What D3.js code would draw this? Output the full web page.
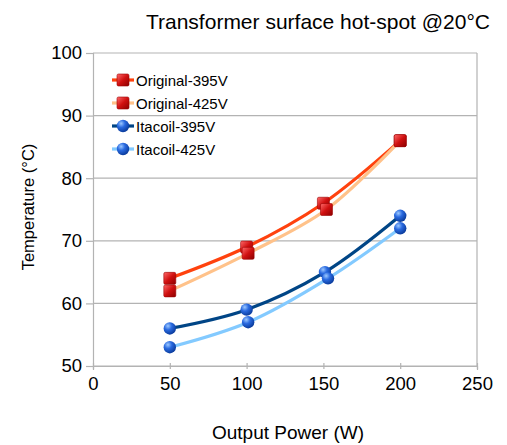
<!DOCTYPE html>
<html>
<head>
<meta charset="utf-8">
<script src="https://cdn.jsdelivr.net/npm/d3@7"></script>
<style>
  body { margin: 0; background: #fff; }
  text { font-family: "Liberation Sans", Arial, sans-serif; fill: #000; }
</style>
</head>
<body>
<svg id="chart" width="507" height="445"></svg>
<script>
const seriesNames = ["Original-395V", "Original-425V", "Itacoil-395V", "Itacoil-425V"];
const powerOrig395 = [50, 100, 150, 200];
const tempOrig395 = [64, 69, 76, 86];
const powerOrig425 = [50, 101, 152, 200];
const tempOrig425 = [62, 68, 75, 86];
const powerIta395 = [50, 100, 151, 200];
const tempIta395 = [56, 59, 65, 74];
const powerIta425 = [50, 101, 153, 200];
const tempIta425 = [53, 57, 64, 72];
const xTicks = [0, 50, 100, 150, 200, 250];
const yTicks = [50, 60, 70, 80, 90, 100];

const lineColors = ["#ff420e", "#ffc28a", "#004586", "#83caff"];
const markerType = ["square", "square", "ball", "ball"];

const series = [
  {name: seriesNames[0], xs: powerOrig395, ys: tempOrig395},
  {name: seriesNames[1], xs: powerOrig425, ys: tempOrig425},
  {name: seriesNames[2], xs: powerIta395, ys: tempIta395},
  {name: seriesNames[3], xs: powerIta425, ys: tempIta425}
].map((s, i) => ({...s, color: lineColors[i], marker: markerType[i],
  points: s.xs.map((x, j) => ({x: x, y: s.ys[j]}))}));

const svg = d3.select("#chart");
const margin = {left: 93, right: 30, top: 53, bottom: 79};
const width = 507 - margin.left - margin.right;
const height = 445 - margin.top - margin.bottom;

const defs = svg.append("defs");
const redGrad = defs.append("linearGradient").attr("id", "redSq")
  .attr("x1", 0).attr("y1", 0).attr("x2", 1).attr("y2", 1);
redGrad.append("stop").attr("offset", "0%").attr("stop-color", "#ff6b6b");
redGrad.append("stop").attr("offset", "50%").attr("stop-color", "#d01010");
redGrad.append("stop").attr("offset", "100%").attr("stop-color", "#8a0000");
const blueGrad = defs.append("radialGradient").attr("id", "blueBall")
  .attr("cx", "35%").attr("cy", "30%").attr("r", "70%");
blueGrad.append("stop").attr("offset", "0%").attr("stop-color", "#9cc8ff");
blueGrad.append("stop").attr("offset", "45%").attr("stop-color", "#2a6ae0");
blueGrad.append("stop").attr("offset", "100%").attr("stop-color", "#0b3d9e");

const g = svg.append("g").attr("transform", `translate(${margin.left},${margin.top})`);

const x = d3.scaleLinear().domain([0, 250]).range([0, width]);
const y = d3.scaleLinear().domain([50, 100]).range([height, 0]);

// grid
g.append("g").selectAll("line").data(yTicks).join("line")
  .attr("x1", 0).attr("x2", width)
  .attr("y1", d => y(d)).attr("y2", d => y(d))
  .attr("stroke", "#b3b3b3").attr("stroke-width", 1.2);
g.append("line").attr("x1", width).attr("x2", width).attr("y1", 0).attr("y2", height)
  .attr("stroke", "#b3b3b3").attr("stroke-width", 1.2);

// axes
const xAxis = g.append("g").attr("transform", `translate(0,${height})`)
  .call(d3.axisBottom(x).tickValues(xTicks).tickSize(4).tickPadding(7));
const yAxis = g.append("g")
  .call(d3.axisLeft(y).tickValues(yTicks).tickSize(7).tickPadding(4));
[xAxis, yAxis].forEach(a => {
  a.selectAll(".domain").attr("stroke", "#b3b3b3").attr("stroke-width", 1.2);
  a.selectAll(".tick line").attr("stroke", "#b3b3b3").attr("stroke-width", 1.2);
  a.selectAll("text").attr("font-size", 18.5).attr("font-family", "Liberation Sans, Arial, sans-serif").attr("fill", "#000");
});
xAxis.selectAll(".tick line").attr("y1", -3).attr("y2", 3);

// lines
const line = d3.line().x(d => x(d.x)).y(d => y(d.y)).curve(d3.curveCatmullRom.alpha(0.5));
g.append("g").selectAll("path").data(series).join("path")
  .attr("d", d => line(d.points))
  .attr("fill", "none").attr("stroke", d => d.color).attr("stroke-width", 3.2)
  .attr("stroke-linecap", "round");

function drawMarker(sel, type, cx, cy) {
  if (type === "square") {
    sel.append("rect").attr("x", cx - 6).attr("y", cy - 6).attr("width", 12).attr("height", 12)
      .attr("rx", 1.5).attr("fill", "url(#redSq)").attr("stroke", "#9a0000").attr("stroke-width", 0.6);
  } else {
    sel.append("circle").attr("cx", cx).attr("cy", cy).attr("r", 6.2)
      .attr("fill", "url(#blueBall)");
  }
}

const markers = g.append("g");
series.forEach(s => {
  s.points.forEach(p => drawMarker(markers, s.marker, x(p.x), y(p.y)));
});

// legend
const legend = svg.append("g").attr("transform", "translate(112,80)");
series.forEach((s, i) => {
  const row = legend.append("g").attr("transform", `translate(0,${i * 23})`);
  row.append("line").attr("x1", 0).attr("x2", 22).attr("y1", 0).attr("y2", 0)
    .attr("stroke", s.color).attr("stroke-width", 3.2);
  drawMarker(row, s.marker, 11, 0);
  row.append("text").attr("x", 24).attr("y", 5.5).attr("font-size", 15).text(s.name);
});

// titles
svg.append("text").attr("x", 318).attr("y", 29).attr("text-anchor", "middle")
  .attr("font-size", 21).text("Transformer surface hot-spot @20°C");
svg.append("text").attr("x", 288).attr("y", 439).attr("text-anchor", "middle")
  .attr("font-size", 19).text("Output Power (W)");
svg.append("text").attr("transform", "translate(34,207) rotate(-90)").attr("text-anchor", "middle")
  .attr("font-size", 16.5).text("Temperature (°C)");
</script>
</body>
</html>
